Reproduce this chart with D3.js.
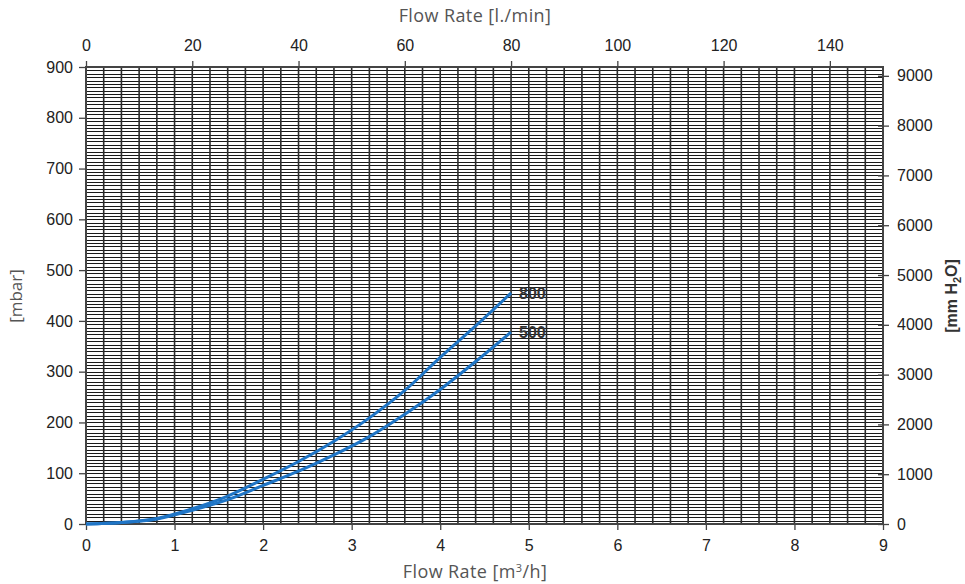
<!DOCTYPE html>
<html><head><meta charset="utf-8">
<script src="https://cdn.jsdelivr.net/npm/d3@7"></script>
<style>
body{margin:0;background:#fff;}
svg{display:block;}
.tick text{font-family:"Liberation Sans",Arial,sans-serif;font-size:16px;fill:#222;}
</style></head><body>
<svg id="c" width="965" height="584"></svg>
<script>
// Data
const flowM3h = [0, 0.4, 0.8, 1.2, 1.6, 2.0, 2.4, 2.8, 3.2, 3.6, 4.0, 4.4, 4.8];
const series800 = [0, 3, 11, 30, 55, 88, 123, 163, 209, 263, 328, 390, 455];
const series500 = [0, 3, 10, 27, 48, 76, 104, 136, 172, 216, 265, 320, 378];
const seriesNames = ["800", "500"];
const bottomTicks = [0,1,2,3,4,5,6,7,8,9];
const topTicks = [0,20,40,60,80,100,120,140];
const leftTicks = [0,100,200,300,400,500,600,700,800,900];
const rightTicks = [0,1000,2000,3000,4000,5000,6000,7000,8000,9000];

const svg = d3.select("#c");
const L=86, R=883, T=67, B=524;
const x = d3.scaleLinear().domain([0,9]).range([L,R]);
const xTop = d3.scaleLinear().domain([0,150]).range([L,R]);
const y = d3.scaleLinear().domain([0,900]).range([B,T]);
const yR = d3.scaleLinear().domain([0,900*10.197]).range([B,T]);

// grid
const g = svg.append("g");
const hGrid = d3.range(1, 135).map(i => i*100/15).filter(v => v < 900);
g.selectAll("line.h").data(hGrid).join("line")
  .attr("x1",L).attr("x2",R)
  .attr("y1",d=>Math.round(y(d))+0.5).attr("y2",d=>Math.round(y(d))+0.5)
  .attr("stroke","#1a1a1a").attr("stroke-width",1.2);
const vGrid = d3.range(1,45).map(i=>i*0.2);
g.selectAll("line.v").data(vGrid).join("line")
  .attr("y1",T).attr("y2",B)
  .attr("x1",d=>x(d)).attr("x2",d=>x(d))
  .attr("stroke","#2a2a2a").attr("stroke-width",1.6);
// frame
svg.append("rect").attr("x",L).attr("y",T).attr("width",R-L).attr("height",B-T)
  .attr("fill","none").attr("stroke","#444").attr("stroke-width",2);

function styleAxis(sel){
  sel.select(".domain").remove();
  sel.selectAll(".tick line").attr("stroke","#444").attr("stroke-width",1.3);
}
svg.append("g").attr("transform",`translate(0,${B})`)
  .call(d3.axisBottom(x).tickValues(bottomTicks).tickSize(6).tickPadding(10).tickFormat(d3.format("d")))
  .call(styleAxis);
svg.append("g").attr("transform",`translate(0,${T})`)
  .call(d3.axisTop(xTop).tickValues(topTicks).tickSize(6).tickPadding(10).tickFormat(d3.format("d")))
  .call(styleAxis);
svg.append("g").attr("transform",`translate(${L},0)`)
  .call(d3.axisLeft(y).tickValues(leftTicks).tickSize(7).tickPadding(6).tickFormat(d3.format("d")))
  .call(styleAxis);
const ra = svg.append("g").attr("transform",`translate(${R},0)`)
  .call(d3.axisRight(yR).tickValues(rightTicks).tickSize(6).tickPadding(8).tickFormat(d3.format("d")))
  .call(styleAxis);
ra.selectAll(".tick line").attr("x1",-5);

// curves
const line = d3.line().x((d,i)=>x(flowM3h[i])).y(d=>y(d)).curve(d3.curveMonotoneX);
const allSeries = [series800, series500];
svg.selectAll("path.curve").data(allSeries).join("path")
  .attr("d",line).attr("fill","none").attr("stroke","#1f75c6").attr("stroke-width",3);
svg.selectAll("text.lab").data(allSeries).join("text")
  .attr("x",x(flowM3h[flowM3h.length-1])+8)
  .attr("y",d=>y(d[d.length-1])+6)
  .attr("font-family","Liberation Sans,Arial,sans-serif").attr("font-size",16).attr("font-weight","bold")
  .attr("fill","#333").text((d,i)=>seriesNames[i]);

// titles
const tf = "'Open Sans',sans-serif";
svg.append("text").attr("x",475).attr("y",22).attr("text-anchor","middle").attr("letter-spacing",0.4)
  .attr("font-family",tf).attr("font-size",18).attr("fill","#555").text("Flow Rate [l./min]");
const bt = svg.append("text").attr("x",475).attr("y",578).attr("text-anchor","middle").attr("letter-spacing",0.4)
  .attr("font-family",tf).attr("font-size",18).attr("fill","#555");
bt.append("tspan").text("Flow Rate [m");
bt.append("tspan").attr("dy",-6).attr("font-size",11).text("3");
bt.append("tspan").attr("dy",6).text("/h]");
svg.append("text").attr("transform","translate(22,296) rotate(-90)").attr("text-anchor","middle")
  .attr("font-family",tf).attr("font-size",17).attr("fill","#555").text("[mbar]");
const rt = svg.append("text").attr("transform","translate(957,296) rotate(-90)").attr("text-anchor","middle")
  .attr("font-family","Liberation Sans,Arial,sans-serif").attr("font-size",16).attr("font-weight","bold").attr("fill","#333");
rt.append("tspan").text("[mm H");
rt.append("tspan").attr("dy",4).attr("font-size",11).text("2");
rt.append("tspan").attr("dy",-4).text("O]");
</script></body></html>
